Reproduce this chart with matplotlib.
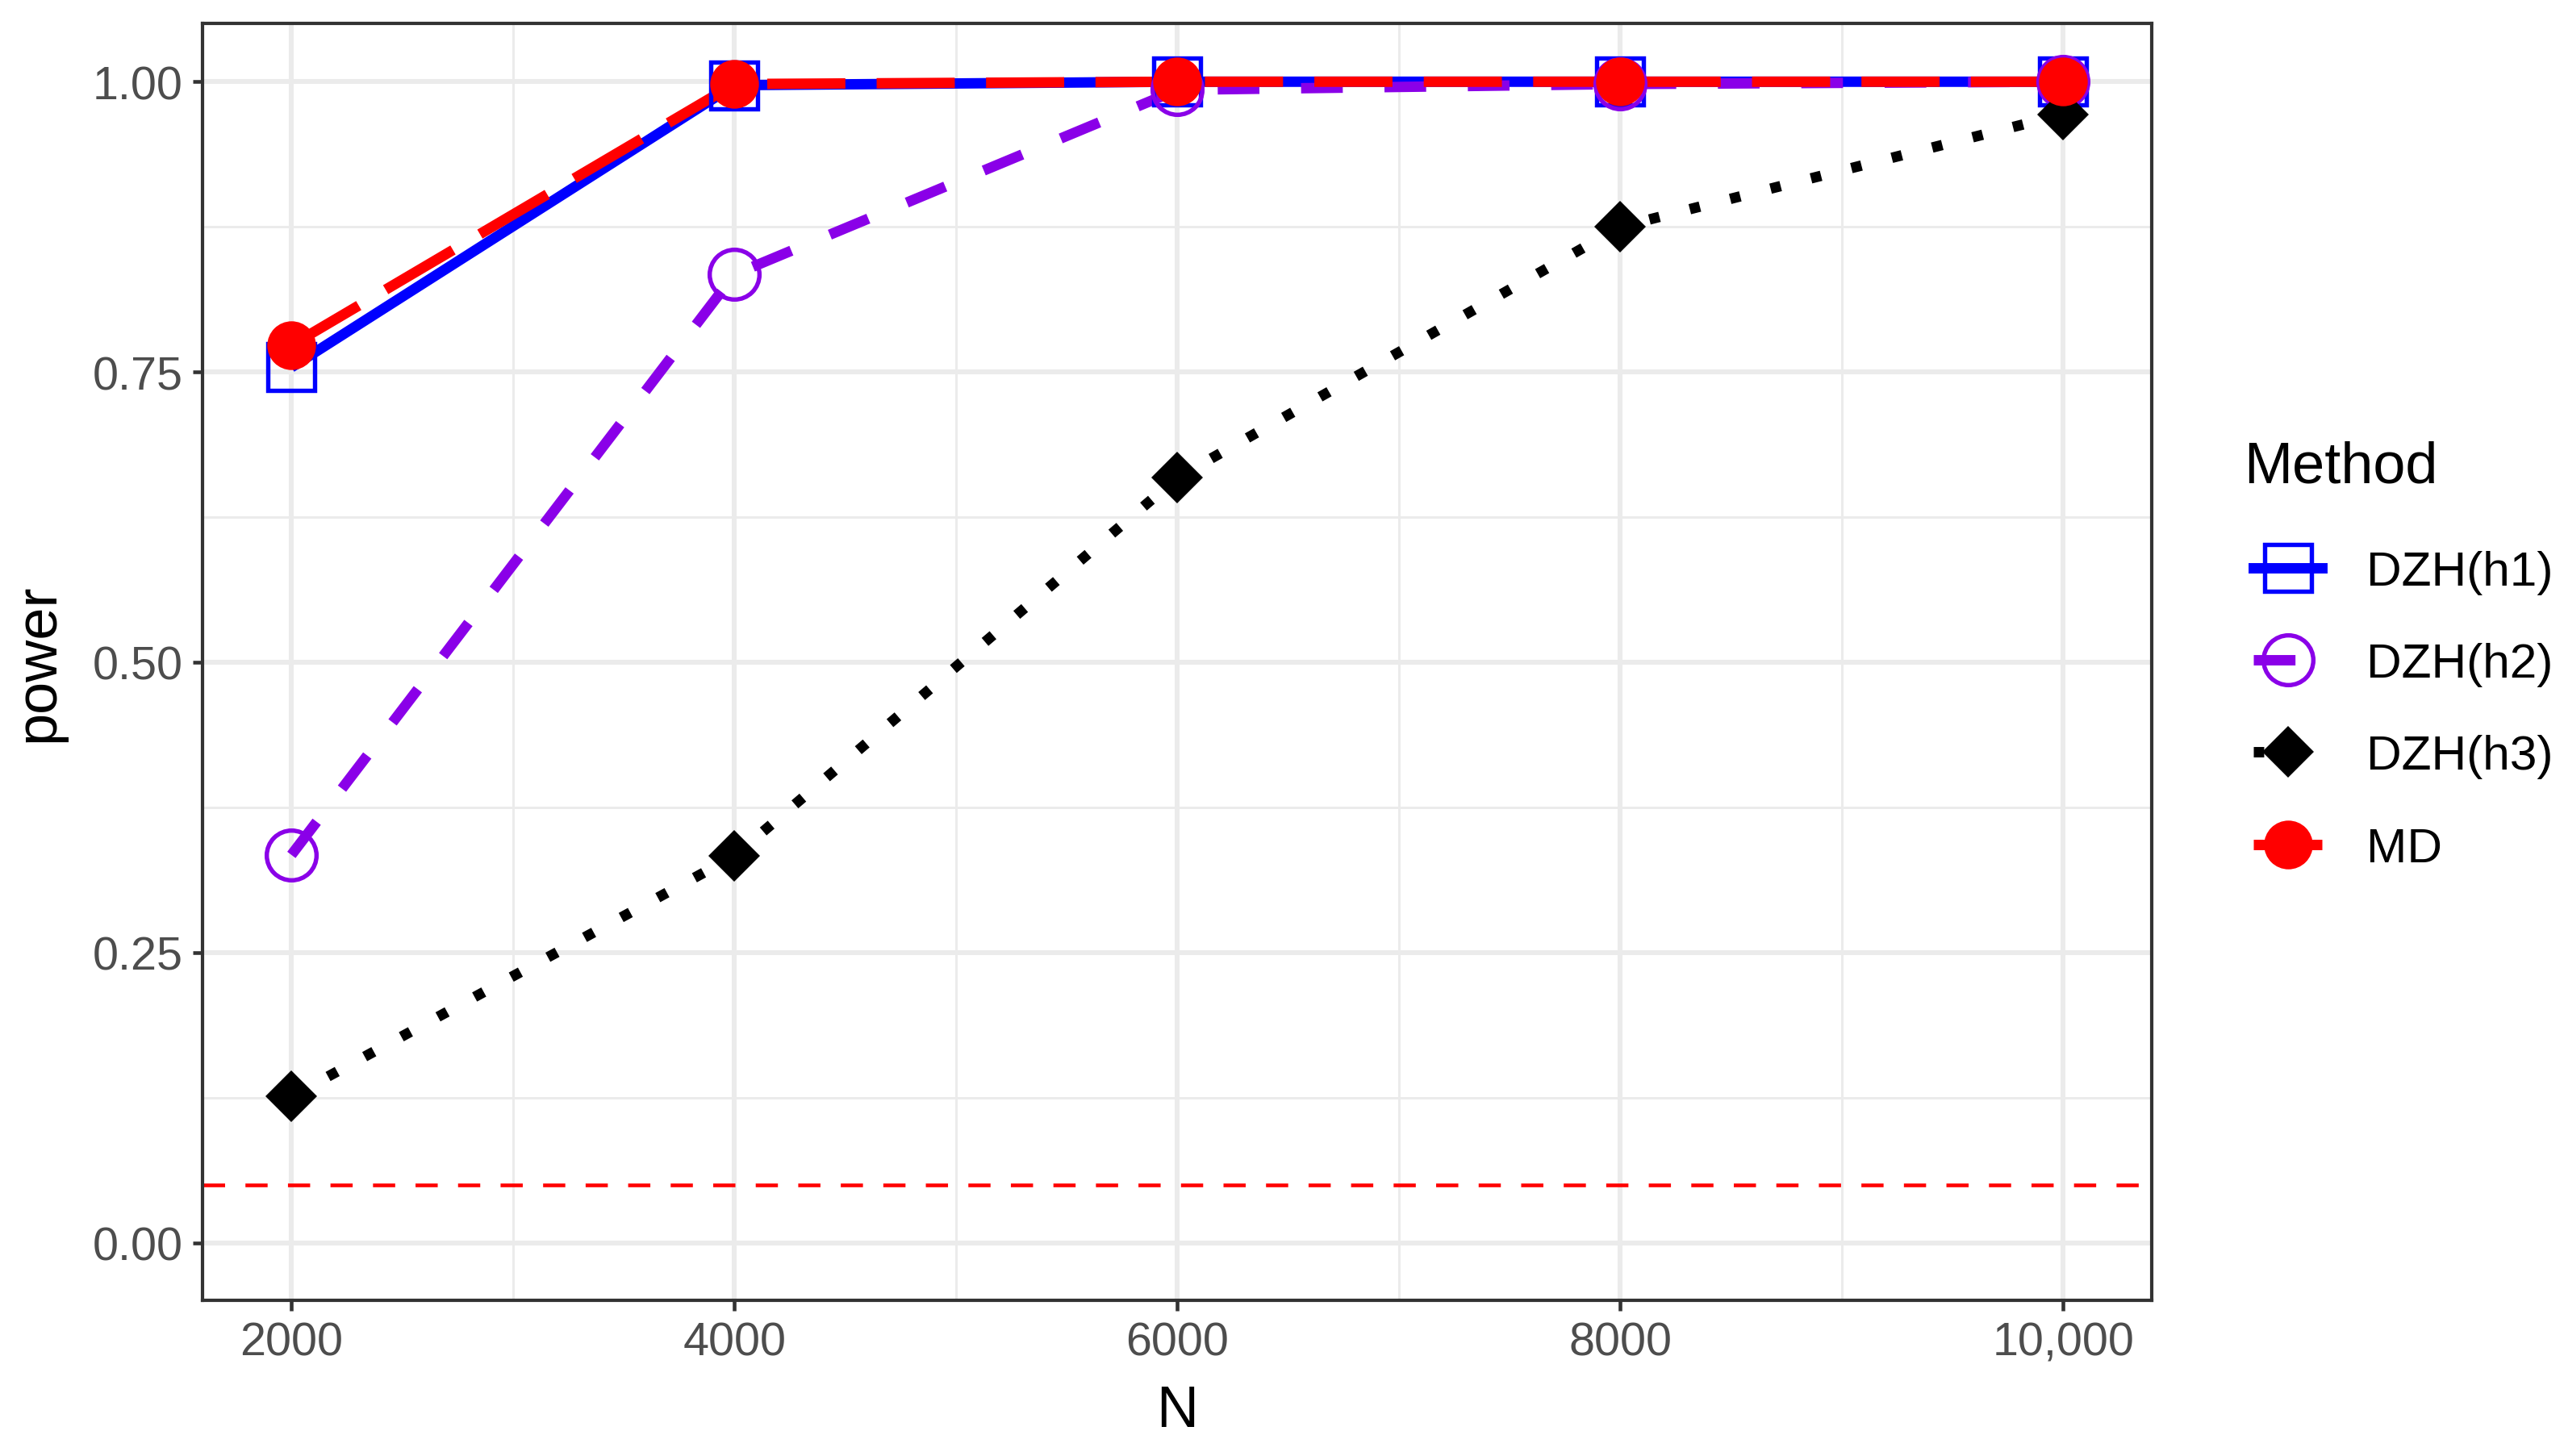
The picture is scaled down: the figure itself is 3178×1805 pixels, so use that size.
import matplotlib
matplotlib.use("Agg")
import matplotlib.pyplot as plt
from matplotlib.lines import Line2D

plt.rcParams['font.family'] = ['Liberation Sans', 'DejaVu Sans']

N = [2000, 4000, 6000, 8000, 10000]
methods = ["DZH(h1)", "DZH(h2)", "DZH(h3)", "MD"]
power_h1 = [0.754, 0.997, 1.0, 1.0, 1.0]
power_h2 = [0.334, 0.834, 0.993, 0.998, 1.0]
power_h3 = [0.126, 0.333, 0.659, 0.875, 0.972]
power_md = [0.773, 0.998, 1.0, 1.0, 1.0]
alpha_level = 0.05
xticks = [2000, 4000, 6000, 8000, 10000]
xticklabels = ["2000", "4000", "6000", "8000", "10,000"]
yticks = [0.0, 0.25, 0.5, 0.75, 1.0]
yticklabels = ["0.00", "0.25", "0.50", "0.75", "1.00"]

series = [power_h1, power_h2, power_h3, power_md]
colors = ["#0000FF", "#8A00E8", "#000000", "#FF0000"]
lw = 3.1
linestyles = ["-", (0, (4, 4)), (0, (1, 3)), (0, (7.5, 3))]
markers = ["s", "o", "D", "o"]
msizes = [14.0, 14.8, 11.0, 14.5]
mfaces = ["none", "none", "#000000", "#FF0000"]
medges = [1.3, 1.3, 0.0, 0.0]

fig = plt.figure(figsize=(3178 / 300, 1806 / 300), dpi=300)
ax = fig.add_axes([0.0791, 0.1066, 0.8393 - 0.0791, 0.9832 - 0.1066])

# lines
for vals, c, ls in zip(series, colors, linestyles):
    ax.plot(N, vals, color=c, lw=lw, linestyle=ls, dash_capstyle='butt',
            solid_capstyle='butt', zorder=3)
# points
for vals, c, m, ms, mf, me in zip(series, colors, markers, msizes, mfaces, medges):
    ax.plot(N, vals, linestyle='none', marker=m, markersize=ms,
            markerfacecolor=mf, markeredgecolor=c, markeredgewidth=me, zorder=4)

ax.axhline(alpha_level, color="#FF0000", lw=1.1, linestyle=(0, (6, 5.5)), zorder=2.5)

ax.set_xlim(1600, 10400)
ax.set_ylim(-0.05, 1.05)
ax.set_xticks(xticks)
ax.set_xticklabels(xticklabels)
ax.set_yticks(yticks)
ax.set_yticklabels(yticklabels)
ax.set_xticks([3000, 5000, 7000, 9000], minor=True)
ax.set_yticks([0.125, 0.375, 0.625, 0.875], minor=True)

ax.grid(which='major', color='#EBEBEB', lw=1.45, zorder=0)
ax.grid(which='minor', color='#EBEBEB', lw=0.72, zorder=0)
ax.set_axisbelow(True)

for s in ax.spines.values():
    s.set_color('#333333')
    s.set_linewidth(1.0)

ax.tick_params(which='major', length=3.0, width=1.1, color='#333333',
               labelsize=13.8, labelcolor='#4D4D4D', pad=3)
ax.tick_params(which='minor', length=0)

ax.set_xlabel("N", fontsize=17.3, color='black', labelpad=6)
ax.set_ylabel("power", fontsize=17.3, color='black', labelpad=8)

handles = []
for c, ls, m, ms, mf, me, lab in zip(colors, linestyles, markers, msizes, mfaces, medges, methods):
    handles.append(Line2D([0], [0], color=c, lw=lw, linestyle=ls, marker=m,
                          markersize=ms, markerfacecolor=mf, markeredgecolor=c,
                          markeredgewidth=me, dash_capstyle='butt', label=lab))

fig.text(1372 / 1568, 1 - 286 / 891, "Method", fontsize=17.3, color='black',
         ha='left', va='center')
leg = fig.legend(handles=handles, loc='upper left',
                 bbox_to_anchor=(1378 / 1568, 1 - 337 / 891), frameon=False,
                 fontsize=14.5, handlelength=1.41,
                 handletextpad=0.91, labelspacing=0.98, borderpad=0,
                 borderaxespad=0)

fig.savefig("out.png", dpi=300, facecolor='white')
